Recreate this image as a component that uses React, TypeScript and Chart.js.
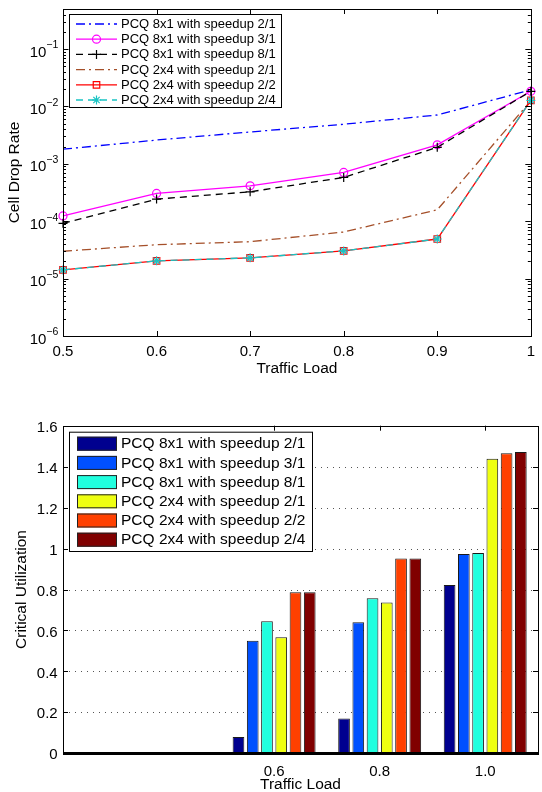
import React, { useEffect, useRef } from 'react';
import { Chart, registerables } from 'chart.js';

Chart.register(...registerables);

// ---------- data ----------
const seriesLabels = [
  'PCQ 8x1 with speedup 2/1',
  'PCQ 8x1 with speedup 3/1',
  'PCQ 8x1 with speedup 8/1',
  'PCQ 2x4 with speedup 2/1',
  'PCQ 2x4 with speedup 2/2',
  'PCQ 2x4 with speedup 2/4',
];

const loads = [0.5, 0.6, 0.7, 0.8, 0.9, 1.0];
const drop8x1s21 = [1.8e-3, 2.6e-3, 3.6e-3, 4.9e-3, 7.1e-3, 1.95e-2];
const drop8x1s31 = [1.24e-4, 3.05e-4, 4.15e-4, 7.1e-4, 2.15e-3, 1.84e-2];
const drop8x1s81 = [9.2e-5, 2.43e-4, 3.26e-4, 5.8e-4, 1.94e-3, 1.84e-2];
const drop2x4s21 = [3.0e-5, 3.9e-5, 4.4e-5, 6.5e-5, 1.58e-4, 1.26e-2];
const drop2x4s22 = [1.42e-5, 2.04e-5, 2.3e-5, 3.04e-5, 4.9e-5, 1.28e-2];
const drop2x4s24 = [1.42e-5, 2.04e-5, 2.3e-5, 3.04e-5, 4.9e-5, 1.28e-2];
const dropTicks = [1e-6, 1e-5, 1e-4, 1e-3, 1e-2, 1e-1];
const loadTicks = [0.5, 0.6, 0.7, 0.8, 0.9, 1.0];

const utilLoads = [0.6, 0.8, 1.0];
const util8x1s21 = [0.08, 0.17, 0.822];
const util8x1s31 = [0.55, 0.64, 0.973];
const util8x1s81 = [0.645, 0.757, 0.978];
const util2x4s21 = [0.567, 0.737, 1.438];
const util2x4s22 = [0.787, 0.952, 1.465];
const util2x4s24 = [0.787, 0.952, 1.471];
const utilTicks = [0, 0.2, 0.4, 0.6, 0.8, 1.0, 1.2, 1.4, 1.6];

// ---------- styles ----------
const FONT = '"Liberation Sans", Arial, Helvetica, sans-serif';

const lineStyles = [
  { color: '#0000FF', dash: [9, 4, 2, 4], point: 'none', pr: 0 },
  { color: '#FF00FF', dash: [], point: 'circle', pr: 4 },
  { color: '#000000', dash: [7, 5], point: 'cross', pr: 4.5 },
  { color: '#A5502A', dash: [9, 4, 2, 4], point: 'none', pr: 0 },
  { color: '#FF0000', dash: [], point: 'rect', pr: 4.6 },
  { color: '#19C3C3', dash: [7, 5], point: 'star', pr: 4.5 },
];
const barColors = ['#00008F', '#0050FF', '#20FFDF', '#EFFF10', '#FF4000', '#800000'];

function drawMarker(ctx: CanvasRenderingContext2D, style: string, x: number, y: number, r: number, color: string) {
  ctx.save();
  ctx.strokeStyle = color;
  ctx.lineWidth = 1.2;
  ctx.setLineDash([]);
  ctx.beginPath();
  if (style === 'circle') {
    ctx.arc(x, y, r, 0, Math.PI * 2);
  } else if (style === 'cross') {
    ctx.moveTo(x - r, y); ctx.lineTo(x + r, y);
    ctx.moveTo(x, y - r); ctx.lineTo(x, y + r);
  } else if (style === 'rect') {
    const s = r * Math.SQRT1_2;
    ctx.rect(x - s, y - s, 2 * s, 2 * s);
  } else if (style === 'star') {
    ctx.moveTo(x - r, y); ctx.lineTo(x + r, y);
    ctx.moveTo(x, y - r); ctx.lineTo(x, y + r);
    const d = r * Math.SQRT1_2;
    ctx.moveTo(x - d, y - d); ctx.lineTo(x + d, y + d);
    ctx.moveTo(x - d, y + d); ctx.lineTo(x + d, y - d);
  }
  ctx.stroke();
  ctx.restore();
}

const topFramePlugin = {
  id: 'topFrame',
  afterDatasetsDraw(chart: any) {
    const { ctx, chartArea: a, scales } = chart;
    const xs = scales.x, ys = scales.y;
    ctx.save();
    ctx.strokeStyle = '#000';
    ctx.lineWidth = 1;
    ctx.setLineDash([]);
    ctx.strokeRect(Math.round(a.left) + 0.5, Math.round(a.top) + 0.5, Math.round(a.right - a.left), Math.round(a.bottom - a.top));
    // x ticks inward
    ctx.beginPath();
    loadTicks.forEach((v) => {
      const px = Math.round(xs.getPixelForValue(v)) + 0.5;
      ctx.moveTo(px, a.bottom); ctx.lineTo(px, a.bottom - 5);
      ctx.moveTo(px, a.top); ctx.lineTo(px, a.top + 5);
    });
    // y major + minor ticks inward
    for (let e = -6; e <= 0; e++) {
      for (let m = 1; m <= 9; m++) {
        const v = m * Math.pow(10, e);
        if (v < ys.min * 0.999 || v > ys.max * 1.001) continue;
        const py = Math.round(ys.getPixelForValue(v)) + 0.5;
        const len = m === 1 ? 5.5 : 3;
        ctx.moveTo(a.left, py); ctx.lineTo(a.left + len, py);
        ctx.moveTo(a.right, py); ctx.lineTo(a.right - len, py);
      }
    }
    ctx.stroke();
    // y tick labels: 10 with superscript exponent
    ctx.fillStyle = '#000';
    ctx.textAlign = 'right';
    ctx.textBaseline = 'alphabetic';
    dropTicks.forEach((v) => {
      const py = ys.getPixelForValue(v);
      const ex = Math.round(Math.log10(v));
      const expStr = (ex < 0 ? '\u2212' : '') + Math.abs(ex);
      ctx.font = '10.5px ' + FONT;
      const w = ctx.measureText(expStr).width;
      const right = a.left - 4.7;
      ctx.fillText(expStr, right, py - 0.7);
      ctx.font = '15px ' + FONT;
      ctx.fillText('10', right - w, py + 7.6);
    });
    // legend
    const lx = 69, ly = 14, lw = 212, lh = 93;
    ctx.fillStyle = '#fff';
    ctx.fillRect(lx, ly, lw, lh);
    ctx.strokeStyle = '#000';
    ctx.lineWidth = 1;
    ctx.strokeRect(lx + 0.5, ly + 0.5, lw, lh);
    ctx.font = '13px ' + FONT;
    ctx.textAlign = 'left';
    ctx.textBaseline = 'middle';
    seriesLabels.forEach((lab, i) => {
      const st = lineStyles[i];
      const ry = ly + 10 + i * 15.2;
      ctx.strokeStyle = st.color;
      ctx.lineWidth = 1.3;
      ctx.setLineDash(st.dash);
      ctx.beginPath();
      ctx.moveTo(76, ry); ctx.lineTo(117, ry);
      ctx.stroke();
      ctx.setLineDash([]);
      if (st.point !== 'none') drawMarker(ctx, st.point, 96.5, ry, st.pr, st.color);
      ctx.fillStyle = '#000';
      ctx.fillText(lab, 121, ry + 0.5);
    });
    ctx.restore();
  },
};

const bottomFramePlugin = {
  id: 'bottomFrame',
  beforeDatasetsDraw(chart: any) {
    const { ctx, chartArea: a, scales } = chart;
    const ys = scales.y;
    ctx.save();
    ctx.strokeStyle = '#555';
    ctx.lineWidth = 1;
    ctx.setLineDash([1, 5]);
    ctx.beginPath();
    utilTicks.forEach((v) => {
      if (v <= 0 || v >= 1.6) return;
      const py = Math.round(ys.getPixelForValue(v)) + 0.5;
      ctx.moveTo(a.left, py); ctx.lineTo(a.right, py);
    });
    ctx.stroke();
    ctx.restore();
  },
  afterDatasetsDraw(chart: any) {
    const { ctx, chartArea: a, scales } = chart;
    const xs = scales.x, ys = scales.y;
    ctx.save();
    ctx.strokeStyle = '#000';
    ctx.lineWidth = 1;
    ctx.setLineDash([]);
    ctx.strokeRect(Math.round(a.left) + 0.5, Math.round(a.top) + 0.5, Math.round(a.right - a.left), Math.round(a.bottom - a.top));
    ctx.beginPath();
    utilTicks.forEach((v) => {
      const py = Math.round(ys.getPixelForValue(v)) + 0.5;
      ctx.moveTo(a.left, py); ctx.lineTo(a.left + 5, py);
      ctx.moveTo(a.right, py); ctx.lineTo(a.right - 5, py);
    });
    utilLoads.forEach((v) => {
      const px = Math.round(xs.getPixelForValue(v)) + 0.5;
      ctx.moveTo(px, a.top); ctx.lineTo(px, a.top + 5);
    });
    ctx.stroke();
    // thick baseline
    ctx.lineWidth = 2;
    ctx.beginPath();
    ctx.moveTo(a.left, Math.round(a.bottom));
    ctx.lineTo(a.right, Math.round(a.bottom));
    ctx.stroke();
    // legend
    const lx = 69, ly = 35.7, lw = 243, lh = 119.3;
    ctx.fillStyle = '#fff';
    ctx.fillRect(lx, ly, lw, lh);
    ctx.lineWidth = 1;
    ctx.strokeStyle = '#000';
    ctx.strokeRect(lx + 0.5, ly + 0.5, lw, lh);
    ctx.font = '15.5px ' + FONT;
    ctx.textAlign = 'left';
    ctx.textBaseline = 'middle';
    seriesLabels.forEach((lab, i) => {
      const ry = 47.7 + i * 19.2;
      ctx.fillStyle = barColors[i];
      ctx.fillRect(77, ry - 7, 40, 14);
      ctx.strokeStyle = '#222';
      ctx.strokeRect(77.5, ry - 6.5, 39, 13);
      ctx.fillStyle = '#000';
      ctx.fillText(lab, 121, ry + 0.5);
    });
    ctx.restore();
  },
};

function TopChart() {
  const ref = useRef<HTMLCanvasElement>(null);
  useEffect(() => {
    const series = [drop8x1s21, drop8x1s31, drop8x1s81, drop2x4s21, drop2x4s22, drop2x4s24];
    const chart = new Chart(ref.current as HTMLCanvasElement, {
      type: 'line',
      data: {
        datasets: series.map((vals, i) => {
          const st = lineStyles[i];
          return {
            label: seriesLabels[i],
            data: vals.map((v, j) => ({ x: loads[j], y: v })),
            borderColor: st.color,
            borderWidth: 1.3,
            borderDash: st.dash,
            pointStyle: st.point === 'none' ? 'circle' : st.point,
            pointRadius: st.pr,
            pointBorderWidth: 1.2,
            pointBorderColor: st.color,
            pointBackgroundColor: 'rgba(0,0,0,0)',
            fill: false,
            tension: 0,
            clip: false,
            order: series.length - i,
          } as any;
        }),
      },
      options: {
        animation: false,
        responsive: false,
        devicePixelRatio: 1,
        layout: { padding: { left: 0, right: 5, top: 9, bottom: 0 } },
        plugins: { legend: { display: false }, tooltip: { enabled: false } },
        scales: {
          x: {
            type: 'linear',
            min: 0.5,
            max: 1.0,
            afterBuildTicks: (s: any) => { s.ticks = loadTicks.map((v) => ({ value: v })); },
            afterFit: (s: any) => { s.height = 60; },
            grid: { display: false, drawTicks: false },
            border: { display: false },
            ticks: {
              color: '#000',
              padding: 7,
              font: { family: FONT, size: 15 },
              maxRotation: 0,
              autoSkip: false,
              callback: (v: any) => String(Math.round(Number(v) * 10) / 10),
            },
            title: {
              display: true,
              text: 'Traffic Load',
              color: '#000',
              font: { family: FONT, size: 15.5 },
              padding: { top: 0, bottom: 18 },
            },
          },
          y: {
            type: 'logarithmic',
            min: 1e-6,
            max: 0.5,
            afterBuildTicks: (s: any) => { s.ticks = dropTicks.map((v) => ({ value: v })); },
            afterFit: (s: any) => { s.width = 63; },
            grid: { display: false, drawTicks: false },
            border: { display: false },
            ticks: { display: false },
            title: {
              display: true,
              text: 'Cell Drop Rate',
              color: '#000',
              font: { family: FONT, size: 15.5 },
              padding: { top: 5.7, bottom: 0 },
            },
          },
        },
      },
      plugins: [topFramePlugin],
    } as any);
    return () => chart.destroy();
  }, []);
  return <canvas ref={ref} width={542} height={396} style={{ display: 'block', width: 542, height: 396 }} />;
}

function BottomChart() {
  const ref = useRef<HTMLCanvasElement>(null);
  useEffect(() => {
    const series = [util8x1s21, util8x1s31, util8x1s81, util2x4s21, util2x4s22, util2x4s24];
    const chart = new Chart(ref.current as HTMLCanvasElement, {
      type: 'bar',
      data: {
        datasets: series.map((vals, i) => ({
          label: seriesLabels[i],
          data: vals.map((v, j) => ({ x: utilLoads[j], y: v })),
          backgroundColor: barColors[i],
          borderColor: '#1a1a1a',
          borderWidth: 1,
          categoryPercentage: 0.81,
          barPercentage: 0.82,
        })),
      },
      options: {
        animation: false,
        responsive: false,
        devicePixelRatio: 1,
        layout: { padding: { left: 0, right: 4, top: 29.7, bottom: 0 } },
        plugins: { legend: { display: false }, tooltip: { enabled: false } },
        scales: {
          x: {
            type: 'linear',
            min: 0.2,
            max: 1.1,
            offset: false,
            afterBuildTicks: (s: any) => { s.ticks = utilLoads.map((v) => ({ value: v })); },
            afterFit: (s: any) => { s.height = 38.7; },
            grid: { display: false, drawTicks: false },
            border: { display: false },
            ticks: {
              color: '#000',
              padding: 10,
              font: { family: FONT, size: 15 },
              maxRotation: 0,
              autoSkip: false,
              callback: (v: any) => Number(v).toFixed(1),
            },
            title: {
              display: true,
              text: 'Traffic Load',
              color: '#000',
              font: { family: FONT, size: 15.5 },
              padding: { top: 0, bottom: -2 },
            },
          },
          y: {
            type: 'linear',
            min: 0,
            max: 1.6,
            afterBuildTicks: (s: any) => { s.ticks = utilTicks.map((v) => ({ value: v })); },
            afterFit: (s: any) => { s.width = 63; },
            grid: { display: false, drawTicks: false },
            border: { display: false },
            ticks: {
              color: '#000',
              padding: 5.3,
              labelOffset: 2,
              font: { family: FONT, size: 15 },
              callback: (v: any) => String(Math.round(Number(v) * 10) / 10),
            },
            title: {
              display: true,
              text: 'Critical Utilization',
              color: '#000',
              font: { family: FONT, size: 15.5 },
              padding: { top: 12.7, bottom: 0 },
            },
          },
        },
      },
      plugins: [bottomFramePlugin],
    } as any);
    return () => chart.destroy();
  }, []);
  return <canvas ref={ref} width={542} height={396} style={{ display: 'block', width: 542, height: 396 }} />;
}

export default function App() {
  return (
    <div style={{ position: 'absolute', left: 0, top: 0, width: 542, height: 792, background: '#fff' }}>
      <TopChart />
      <BottomChart />
    </div>
  );
}
